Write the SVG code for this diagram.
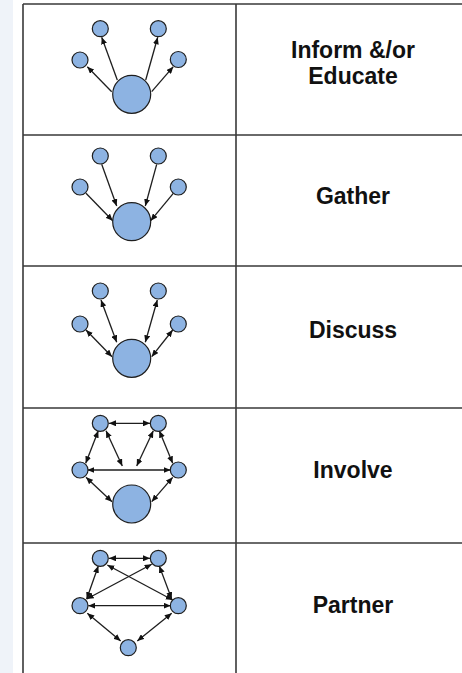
<svg xmlns="http://www.w3.org/2000/svg" width="462" height="673" viewBox="0 0 462 673">
<defs>
<marker id="ah" viewBox="0 0 7 6" refX="7" refY="3" markerWidth="7" markerHeight="6" markerUnits="userSpaceOnUse" orient="auto-start-reverse">
<path d="M0,0 L7,3 L0,6 z" fill="#111"/>
</marker>
<style>
.grid{stroke:#3a3a3a;stroke-width:1.6;fill:none}
.n{fill:#8db3e2;stroke:#1e1e1e;stroke-width:1.2}
.e{stroke:#1e1e1e;stroke-width:1.3;fill:none}
.one{marker-end:url(#ah)}
.two{marker-start:url(#ah);marker-end:url(#ah)}
.lbl{font-family:"Liberation Sans",Arial,sans-serif;font-weight:bold;font-size:23px;fill:#111;text-anchor:middle}
</style>
</defs>
<rect x="0" y="0" width="462" height="673" fill="#fff"/>
<rect x="0" y="0" width="13" height="673" fill="#eff3f9"/>
<g id="table">
<path class="grid" d="M23,4 H470 M23,135 H470 M23,266 H470 M23,408 H470 M23,543 H470 M23,4 V673 M236,4 V673"/>
</g>
<g id="connectors">
<line class="e one" x1="117.3" y1="80" x2="101.7" y2="37.3"/>
<line class="e one" x1="145.7" y1="80" x2="157.7" y2="37.3"/>
<line class="e one" x1="111.7" y1="91.7" x2="87.3" y2="66.7"/>
<line class="e one" x1="151.7" y1="91.7" x2="173.3" y2="66.7"/>
<line class="e one" x1="101.7" y1="164.3" x2="116.7" y2="206"/>
<line class="e one" x1="156.7" y1="164.3" x2="145.3" y2="206"/>
<line class="e one" x1="86" y1="193.3" x2="112.7" y2="220.7"/>
<line class="e one" x1="173.3" y1="193.3" x2="150.7" y2="220.7"/>
<line class="e two" x1="101" y1="300" x2="116.7" y2="342.3"/>
<line class="e two" x1="157.3" y1="300" x2="145.3" y2="342.3"/>
<line class="e two" x1="86" y1="330" x2="112" y2="356.7"/>
<line class="e two" x1="172.7" y1="330" x2="151.7" y2="356.7"/>
<line class="e two" x1="109" y1="423.3" x2="150" y2="423.3"/>
<line class="e two" x1="98.3" y1="430.7" x2="85.7" y2="463.3"/>
<line class="e two" x1="159.3" y1="430.7" x2="172.7" y2="463.3"/>
<line class="e two" x1="106" y1="430.7" x2="122.3" y2="466"/>
<line class="e two" x1="153.3" y1="430.7" x2="136.7" y2="466"/>
<line class="e two" x1="87.3" y1="470" x2="170.7" y2="470"/>
<line class="e two" x1="86" y1="477.3" x2="112" y2="501.7"/>
<line class="e two" x1="172.7" y1="477.3" x2="151.7" y2="501.7"/>
<line class="e two" x1="109" y1="558.3" x2="150" y2="558.3"/>
<line class="e two" x1="98.3" y1="566" x2="86.7" y2="599"/>
<line class="e two" x1="159.3" y1="566" x2="171.7" y2="599"/>
<line class="e two" x1="107.3" y1="565" x2="172.7" y2="600"/>
<line class="e two" x1="151.7" y1="564.3" x2="86.7" y2="599"/>
<line class="e two" x1="88.3" y1="605.7" x2="170.7" y2="605.7"/>
<line class="e two" x1="87.3" y1="613.3" x2="120.7" y2="641"/>
<line class="e two" x1="171.7" y1="613.3" x2="137.3" y2="641"/>
</g>
<g id="inform">
<circle class="n" cx="100.3" cy="28.7" r="8"/>
<circle class="n" cx="158.3" cy="28.7" r="8"/>
<circle class="n" cx="80" cy="60" r="8"/>
<circle class="n" cx="178.3" cy="59.5" r="8"/>
<circle class="n" cx="131.7" cy="94.3" r="19"/>
<text class="lbl" x="353" y="58">Inform &amp;/or</text>
<text class="lbl" x="353" y="84">Educate</text>
</g>
<g id="gather">
<circle class="n" cx="100.3" cy="156" r="8"/>
<circle class="n" cx="158.3" cy="156" r="8"/>
<circle class="n" cx="80" cy="187" r="8"/>
<circle class="n" cx="178.3" cy="187" r="8"/>
<circle class="n" cx="131.7" cy="221.7" r="19"/>
<text class="lbl" x="353" y="204">Gather</text>
</g>
<g id="discuss">
<circle class="n" cx="100.3" cy="291" r="8"/>
<circle class="n" cx="158.3" cy="291" r="8"/>
<circle class="n" cx="80" cy="324" r="8"/>
<circle class="n" cx="178.3" cy="324" r="8"/>
<circle class="n" cx="131.7" cy="358.3" r="19"/>
<text class="lbl" x="353" y="338">Discuss</text>
</g>
<g id="involve">
<circle class="n" cx="100.3" cy="423.3" r="8"/>
<circle class="n" cx="158.3" cy="423.3" r="8"/>
<circle class="n" cx="80" cy="470" r="8"/>
<circle class="n" cx="178.3" cy="470" r="8"/>
<circle class="n" cx="131.7" cy="504" r="19"/>
<text class="lbl" x="353" y="478">Involve</text>
</g>
<g id="partner">
<circle class="n" cx="100.3" cy="558.3" r="8"/>
<circle class="n" cx="158.3" cy="558.3" r="8"/>
<circle class="n" cx="80" cy="605.7" r="8"/>
<circle class="n" cx="178.3" cy="605.7" r="8"/>
<circle class="n" cx="128.3" cy="647.7" r="8"/>
<text class="lbl" x="353" y="612.5">Partner</text>
</g>
</svg>
